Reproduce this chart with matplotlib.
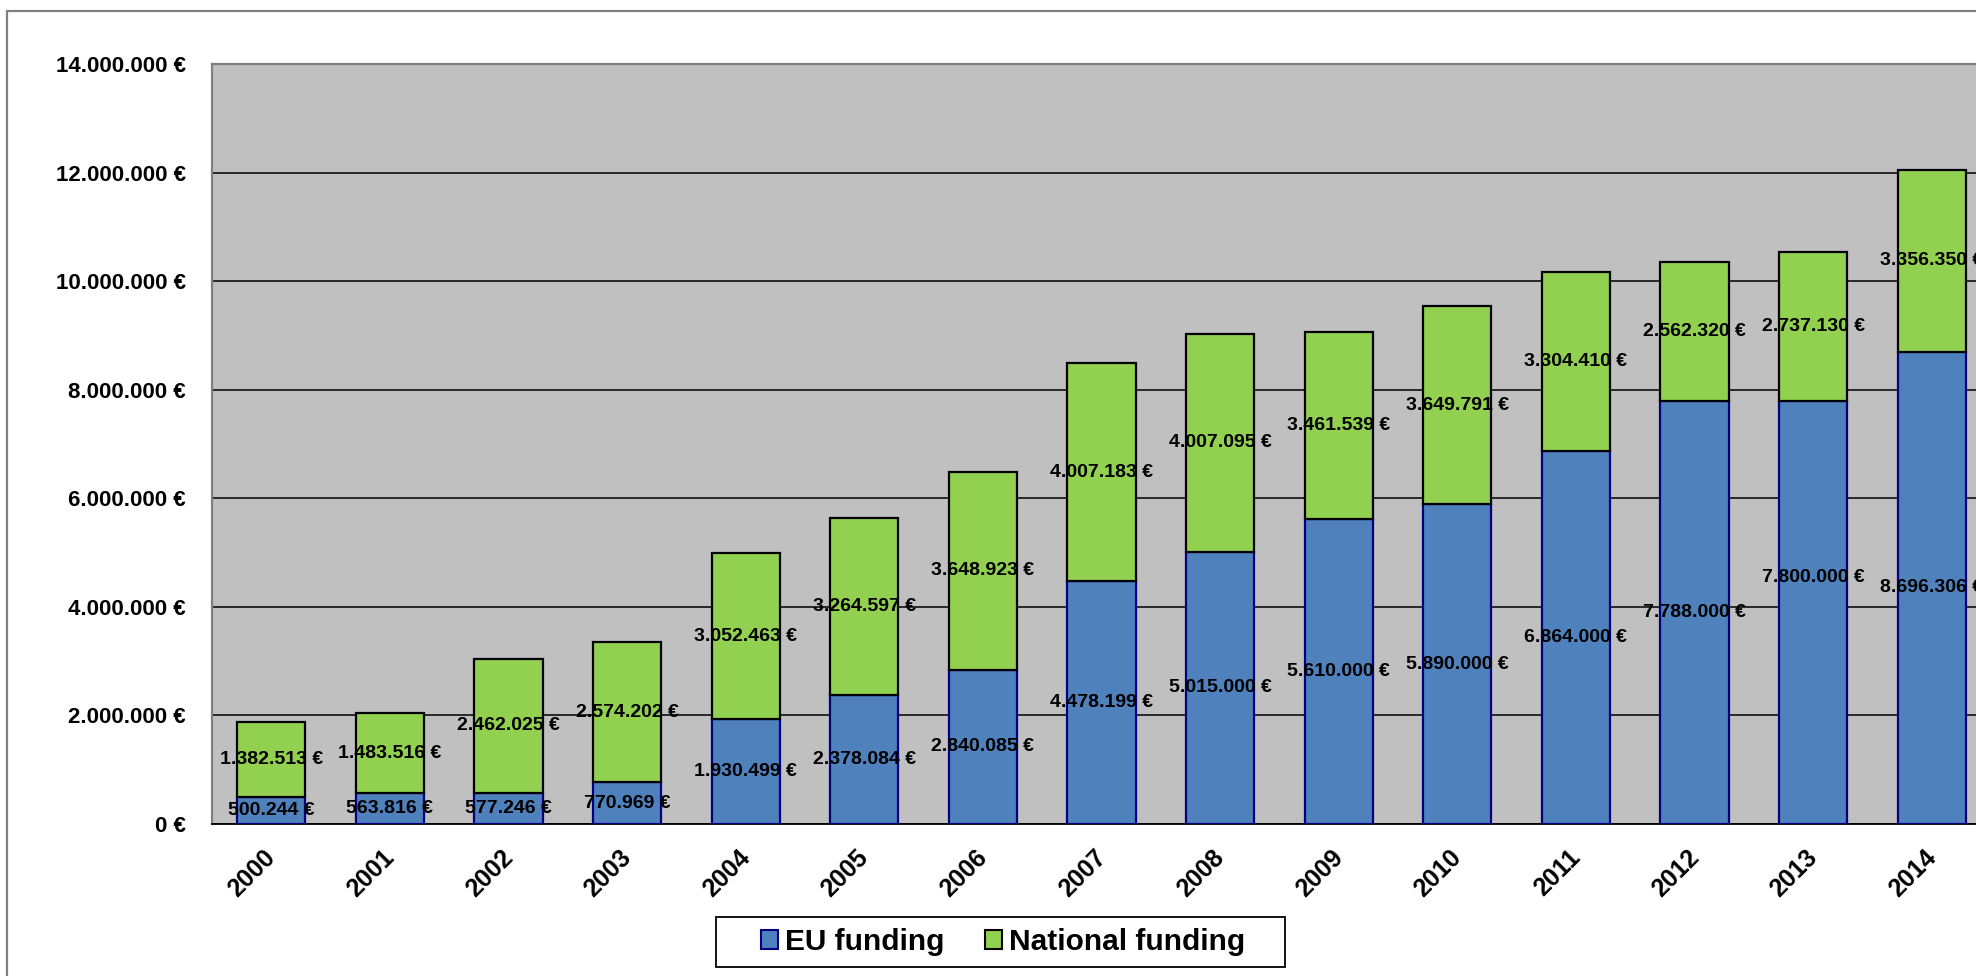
import matplotlib
matplotlib.use("Agg")
import matplotlib.pyplot as plt
import matplotlib.transforms as mtransforms
from matplotlib.patches import Rectangle, Patch

plt.rcParams['font.family'] = ['Liberation Sans', 'DejaVu Sans']

years = ['2000', '2001', '2002', '2003', '2004', '2005', '2006', '2007',
         '2008', '2009', '2010', '2011', '2012', '2013', '2014']
eu_funding = [500244, 563816, 577246, 770969, 1930499, 2378084, 2840085, 4478199,
              5015000, 5610000, 5890000, 6864000, 7788000, 7800000, 8696306]
national_funding = [1382513, 1483516, 2462025, 2574202, 3052463, 3264597, 3648923, 4007183,
                    4007095, 3461539, 3649791, 3304410, 2562320, 2737130, 3356350]
y_ticks = [0, 2000000, 4000000, 6000000, 8000000, 10000000, 12000000, 14000000]
# vertical nudge (points) of EU value labels, as placed in the original
eu_label_nudge = [0, 0, 0, 0, 0, 0, 0, 0, 0, 0, 0, 0, 0, 25, 0]


def fmt(v):
    return f"{v:,.0f}".replace(",", ".") + " €"


W, H = 1976, 976
fig = plt.figure(figsize=(W / 100, H / 100), dpi=100)
fig.patch.set_facecolor('white')

# outer chart border (cropped at right and bottom)
fig.add_artist(Rectangle((7 / W, -0.05), 1.2, 1 - 11 / H + 0.05, transform=fig.transFigure,
                         fill=False, edgecolor='#808080', linewidth=1.6))

ax_left, ax_right = 212 / W, 1991 / W
ax_bottom, ax_top = 1 - 824 / H, 1 - 64 / H
ax = fig.add_axes([ax_left, ax_bottom, ax_right - ax_left, ax_top - ax_bottom])
ax.set_facecolor('#C0C0C0')

x = list(range(len(years)))
bw = 0.575
ax.bar(x, eu_funding, width=bw, color='#4F81BD', edgecolor='#000080', linewidth=1.6, zorder=3)
ax.bar(x, national_funding, width=bw, bottom=eu_funding, color='#92D050',
       edgecolor='black', linewidth=1.6, zorder=3)

for i in x:
    ax.annotate(fmt(eu_funding[i]), (i, eu_funding[i] / 2), xytext=(0, eu_label_nudge[i]),
                textcoords='offset points', ha='center', va='center',
                fontsize=14, fontweight='bold', zorder=5, annotation_clip=False)
    ax.text(i, eu_funding[i] + national_funding[i] / 2, fmt(national_funding[i]),
            ha='center', va='center', fontsize=14, fontweight='bold', zorder=5, clip_on=False)

ax.set_xlim(-0.5, len(years) - 0.5)
ax.set_ylim(0, 14000000)
ax.set_yticks(y_ticks)
ax.set_yticklabels([fmt(v) for v in y_ticks], fontsize=16, fontweight='bold')
ax.yaxis.grid(True, color='black', linewidth=1.1, zorder=1)
ax.set_axisbelow(True)
ax.tick_params(axis='y', length=0, pad=19)
ax.tick_params(axis='x', length=0, pad=15)

ax.set_xticks(x)
labels = ax.set_xticklabels(years, fontsize=18, fontweight='bold', rotation=45, ha='right')
offset = mtransforms.ScaledTranslation(9 / 100, 0, fig.dpi_scale_trans)
for lab in labels:
    lab.set_transform(lab.get_transform() + offset)

for side in ['left', 'top', 'right']:
    ax.spines[side].set_color('#808080')
    ax.spines[side].set_linewidth(1.6)
ax.spines['bottom'].set_color('black')
ax.spines['bottom'].set_linewidth(1.3)

# legend frame
fig.add_artist(Rectangle((716 / W, 1 - 967 / H), (1285 - 716) / W, 50 / H,
                         transform=fig.transFigure, fill=True, facecolor='white',
                         edgecolor='black', linewidth=1.3, zorder=4))
handles = [Patch(facecolor='#4F81BD', edgecolor='#000080', linewidth=1.5, label='EU funding'),
           Patch(facecolor='#92D050', edgecolor='black', linewidth=1.5, label='National funding')]
leg = fig.legend(handles=handles, loc='center', bbox_to_anchor=(1003 / W, 1 - 942 / H),
                 ncol=2, frameon=False, prop={'size': 21.5, 'weight': 'bold'},
                 handlelength=0.57, handleheight=0.57, handletextpad=0.25,
                 columnspacing=1.35, borderpad=0, borderaxespad=0)
leg.set_zorder(5)

fig.savefig('out.png', dpi=100)
